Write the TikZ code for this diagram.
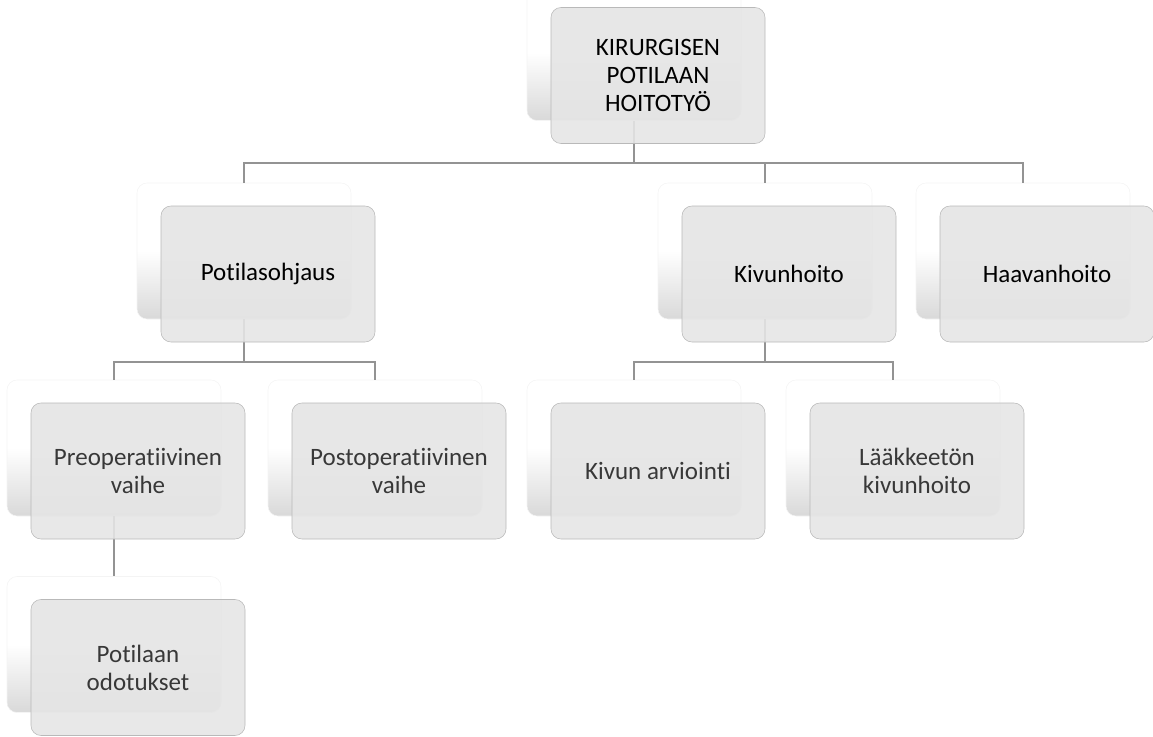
\documentclass[tikz,border=0pt]{standalone}
\usepackage{fontspec}
\setmainfont{Carlito}[Ligatures=NoCommon]
\begin{document}
\begin{tikzpicture}[x=0.75pt,y=-0.75pt,
  taka/.style={rounded corners=7.5pt,minimum width=160.5pt,minimum height=102pt,
    inner sep=0pt,draw=gray!9,top color=white,bottom color=gray!30,middle color=white},
  laatikko/.style={rounded corners=7.5pt,minimum width=160.5pt,minimum height=102pt,
    inner sep=0pt,draw=gray!55,fill=gray!20,fill opacity=0.9,text opacity=1,
    align=center,font=\fontsize{18.75}{21}\selectfont},
  ylin/.style={laatikko,text=black},
  alin/.style={laatikko,text=black!78},
  viiva/.style={draw=gray!85,line width=1.3pt}]
  \useasboundingbox (0,0) rectangle (1153,736);
  % taustalaatikot
  \node[taka] (t-top)  at (634,52.5) {};
  \node[taka] (t-pot)  at (244,251) {};
  \node[taka] (t-kiv)  at (765,251) {};
  \node[taka] (t-haa)  at (1023,251) {};
  \node[taka] (t-pre)  at (114,448) {};
  \node[taka] (t-post) at (375,448) {};
  \node[taka] (t-arv)  at (634,448) {};
  \node[taka] (t-laa)  at (893,448) {};
  \node[taka] (t-odo)  at (114,644.5) {};
  % haarakohdat
  \coordinate (h0) at (634,163);
  \coordinate (h1) at (244,362);
  \coordinate (h2) at (765,362);
  % viivat
  \draw[viiva] (t-top.south) -- (h0);
  \draw[viiva] (t-pot.north) |- (h0) -| (t-haa.north);
  \draw[viiva] (t-kiv.north) -- (t-kiv.north |- h0);
  \draw[viiva] (t-pot.south) -- (h1);
  \draw[viiva] (t-pre.north) |- (h1) -| (t-post.north);
  \draw[viiva] (t-kiv.south) -- (h2);
  \draw[viiva] (t-arv.north) |- (h2) -| (t-laa.north);
  \draw[viiva] (t-pre.south) -- (t-odo.north);
  % laatikot
  \node[ylin] (top)  at ([shift={(24,23)}]t-top.center) {KIRURGISEN\\POTILAAN\\HOITOTYÖ};
  \node[ylin] (pot)  at ([shift={(24,23)}]t-pot.center) {Potilasohjaus};
  \node[ylin] (kiv)  at ([shift={(24,23)}]t-kiv.center) {Kivunhoito};
  \node[ylin] (haa)  at ([shift={(24,23)}]t-haa.center) {Haavanhoito};
  \node[alin] (pre)  at ([shift={(24,23)}]t-pre.center) {Preoperatiivinen\\vaihe};
  \node[alin] (post) at ([shift={(24,23)}]t-post.center) {Postoperatiivinen\\vaihe};
  \node[alin] (arv)  at ([shift={(24,23)}]t-arv.center) {Kivun arviointi};
  \node[alin] (laa)  at ([shift={(24,23)}]t-laa.center) {Lääkkeetön\\kivunhoito};
  \node[alin] (odo)  at ([shift={(24,23)}]t-odo.center) {Potilaan\\odotukset};
\end{tikzpicture}
\end{document}
